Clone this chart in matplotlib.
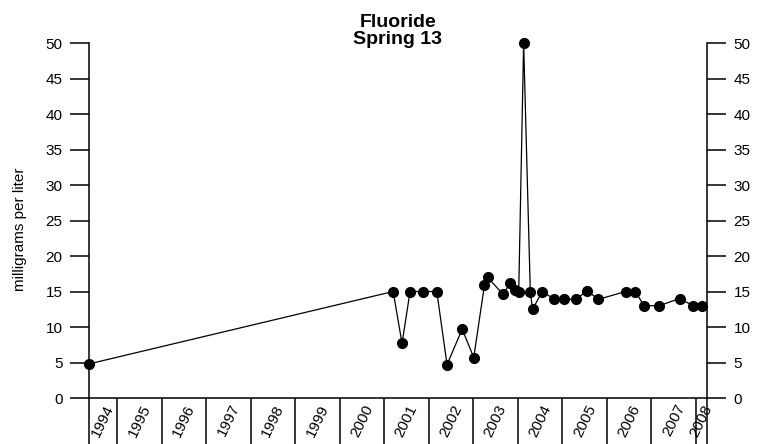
import matplotlib.pyplot as plt
import numpy as np

# data (decimal years, mg/L)
dates = [1994.37, 2001.20, 2001.40, 2001.58, 2001.88, 2002.18, 2002.41, 2002.75,
         2003.01, 2003.25, 2003.32, 2003.67, 2003.83, 2003.93, 2004.02, 2004.13,
         2004.28, 2004.33, 2004.55, 2004.82, 2005.03, 2005.31, 2005.55, 2005.81,
         2006.42, 2006.64, 2006.83, 2007.17, 2007.63, 2007.94, 2008.14]
fluoride = [4.8, 15.0, 7.7, 15.0, 15.0, 15.0, 4.7, 9.7,
            5.7, 15.9, 17.0, 14.6, 16.2, 15.2, 15.0, 50.0,
            14.9, 12.5, 15.0, 13.9, 13.9, 13.9, 15.1, 13.9,
            15.0, 15.0, 13.0, 13.0, 14.0, 13.0, 13.0]
years = list(range(1994, 2009))
y_ticks = list(range(0, 55, 5))

plt.rcParams['font.family'] = ['Liberation Sans', 'DejaVu Sans']

fig = plt.figure(figsize=(7.71, 4.44), dpi=100)
ax = fig.add_axes([0.1154, 0.1036, 0.8016, 0.7995])

ax.plot(dates, fluoride, color='black', linewidth=0.9, marker='o',
        markersize=7, clip_on=False, zorder=3)

x0, x1 = 1994.371, 2008.247
ax.set_xlim(x0, x1)
ax.set_ylim(0, 50)

# year boundaries as long ticks, labels centred in each year
ax.set_xticks([x0] + years[1:] + [x1])
ax.set_xticklabels([])
centers = [(max(y, x0) + min(y + 1, x1)) / 2 for y in years]
ax.set_xticks(centers, minor=True)
ax.set_xticklabels([str(y) for y in years], minor=True, rotation=64,
                   ha='center', va='top', fontsize=11)
ax.tick_params(axis='x', which='major', direction='out', length=36, width=1.1)
ax.tick_params(axis='x', which='minor', length=0, pad=3)

ax.set_yticks(y_ticks)
ax.tick_params(axis='y', which='major', direction='out', length=14, width=1.1,
               labelsize=11, left=True, right=True, labelleft=True,
               labelright=True, pad=5)

ax.spines['top'].set_visible(False)
for s in ['left', 'right', 'bottom']:
    ax.spines[s].set_linewidth(1.1)

fig.text(0.516, 0.9685, "Fluoride\nSpring 13", ha='center', va='top',
         fontsize=14, fontweight='bold', linespacing=1.0)
fig.text(20 / 771, 1 - 229 / 444, "milligrams per liter", rotation=90,
         ha='center', va='center', fontsize=11)

fig.savefig('out.png', dpi=100)
